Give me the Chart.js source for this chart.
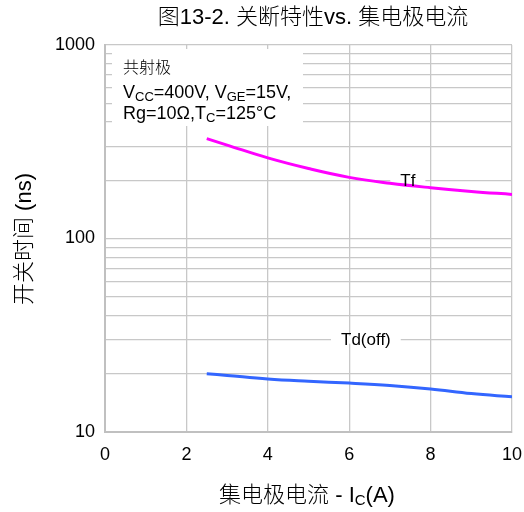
<!DOCTYPE html>
<html>
<head>
<meta charset="utf-8">
<script src="https://cdn.jsdelivr.net/npm/chart.js@4/dist/chart.umd.min.js"></script>
<style>
  html, body { margin: 0; padding: 0; background: #fff; }
  #wrap { width: 524px; height: 512px; position: relative; }
</style>
</head>
<body>
<div id="wrap"><canvas id="c" width="524" height="512"></canvas></div>
<script>
// Collector current (A)
const currentA = [2.5, 3, 4, 5, 6, 7, 8, 9, 10];
// Fall time Tf (ns)
const tfNs = [328, 304, 261, 230, 207, 193, 183, 175, 169];
// Turn-off delay Td(off) (ns)
const tdOffNs = [20, 19.6, 18.8, 18.3, 17.9, 17.4, 16.7, 15.8, 15.2];

// Axis ticks
const xTicks = [0, 2, 4, 6, 8, 10];
const yGridValues = [10, 20, 30, 40, 50, 60, 70, 80, 90,
                     100, 200, 300, 400, 500, 600, 700, 800, 900, 1000];
const yTickLabels = [10, 100, 1000];

// Curve labels: [text, x, y]
const curveLabels = [
  ['Tf', 7.44, 200],
  ['Td(off)', 6.41, 30]
];

const LATIN = "'Liberation Sans', Arial, 'Noto Sans CJK SC', sans-serif";
const MIXED = (size) => "300 " + size + "px 'Liberation Sans', Arial, 'Noto Sans CJK SC', sans-serif";
const GRID = '#c8c8c8';

// Draws a row of text runs (with optional subscript runs) starting at x.
function runsWidth(ctx, runs) {
  let w = 0;
  for (const r of runs) { ctx.font = r.font; w += ctx.measureText(r.t).width; }
  return w;
}
function drawRuns(ctx, runs, x, y, align) {
  let cx = x;
  if (align === 'center') cx = x - runsWidth(ctx, runs) / 2;
  ctx.textAlign = 'left';
  ctx.textBaseline = 'alphabetic';
  for (const r of runs) {
    ctx.font = r.font;
    ctx.fillText(r.t, cx, y + (r.dy || 0));
    cx += ctx.measureText(r.t).width;
  }
}

const decorations = {
  id: 'decorations',
  beforeDatasetsDraw(chart) {
    const ctx = chart.ctx;
    const xs = chart.scales.x, ys = chart.scales.y;
    ctx.save();
    // white panel for the test conditions
    ctx.fillStyle = '#fff';
    ctx.fillRect(112, 49, 191, 77);
    // white backgrounds behind the curve names
    ctx.font = '17px ' + LATIN;
    for (const [t, vx, vy] of curveLabels) {
      const px = xs.getPixelForValue(vx), py = ys.getPixelForValue(vy);
      const w = ctx.measureText(t).width + 20;
      ctx.fillRect(px - w / 2, py - 4, w, 8);
    }
    ctx.restore();
  },
  afterDatasetsDraw(chart) {
    const ctx = chart.ctx;
    const xs = chart.scales.x, ys = chart.scales.y;
    ctx.save();
    ctx.fillStyle = '#000';

    // curve names
    ctx.font = '17px ' + LATIN;
    ctx.textAlign = 'center';
    ctx.textBaseline = 'middle';
    for (const [t, vx, vy] of curveLabels) {
      ctx.fillText(t, xs.getPixelForValue(vx), ys.getPixelForValue(vy) + 1);
    }

    // test conditions
    const big = '18px ' + LATIN, sub = '13px ' + LATIN;
    ctx.font = "300 16px 'Noto Sans CJK SC', sans-serif";
    ctx.textAlign = 'left';
    ctx.textBaseline = 'alphabetic';
    ctx.fillText('共射极', 123, 73);
    drawRuns(ctx, [
      { t: 'V', font: big }, { t: 'CC', font: sub, dy: 3 },
      { t: '=400V, V', font: big }, { t: 'GE', font: sub, dy: 3 },
      { t: '=15V,', font: big }
    ], 123, 98, 'left');
    drawRuns(ctx, [
      { t: 'Rg=10Ω,T', font: big }, { t: 'C', font: sub, dy: 3 },
      { t: '=125°C', font: big }
    ], 123, 119, 'left');

    // chart title
    drawRuns(ctx, [
      { t: '图13-2. 关断特性vs. 集电极电流', font: MIXED(22) }
    ], 313, 24, 'center');

    // x axis title
    drawRuns(ctx, [
      { t: '集电极电流 - I', font: MIXED(22) },
      { t: 'C', font: '15px ' + LATIN, dy: 3 },
      { t: '(A)', font: '22px ' + LATIN }
    ], 307, 502, 'center');

    // y axis title
    ctx.translate(31, 239);
    ctx.rotate(-Math.PI / 2);
    drawRuns(ctx, [{ t: '开关时间 (ns)', font: MIXED(22) }], 0, 0, 'center');
    ctx.restore();
  }
};

new Chart(document.getElementById('c'), {
  type: 'line',
  data: {
    datasets: [
      {
        label: 'Tf',
        data: currentA.map((x, i) => ({ x, y: tfNs[i] })),
        borderColor: '#ff00ff',
        borderWidth: 3,
        pointRadius: 0,
        tension: 0.4,
        fill: false
      },
      {
        label: 'Td(off)',
        data: currentA.map((x, i) => ({ x, y: tdOffNs[i] })),
        borderColor: '#3366ff',
        borderWidth: 3,
        pointRadius: 0,
        tension: 0.4,
        fill: false
      }
    ]
  },
  options: {
    responsive: false,
    animation: false,
    events: [],
    layout: { padding: { left: 0, top: 45, right: 0, bottom: 0 } },
    plugins: { legend: { display: false }, title: { display: false }, tooltip: { enabled: false } },
    scales: {
      x: {
        type: 'linear',
        min: 0, max: 10,
        afterBuildTicks: s => { s.ticks = xTicks.map(v => ({ value: v })); },
        afterFit: s => { s.height = 80; s.paddingRight = 12; },
        grid: { color: GRID, lineWidth: 1.3, drawTicks: false },
        border: { color: '#c0c0c0', width: 2 },
        ticks: { color: '#000', font: { family: LATIN, size: 18 }, padding: 12, maxRotation: 0, autoSkip: false }
      },
      y: {
        type: 'logarithmic',
        min: 10, max: 1000,
        afterBuildTicks: s => { s.ticks = yGridValues.map(v => ({ value: v })); },
        afterFit: s => { s.width = 105; },
        grid: { color: GRID, lineWidth: 1.3, drawTicks: false },
        border: { color: '#c0c0c0', width: 2 },
        ticks: {
          color: '#000', font: { family: LATIN, size: 18 }, padding: 10, autoSkip: false,
          callback: v => (yTickLabels.includes(v) ? String(v) : '')
        }
      }
    }
  },
  plugins: [decorations]
});
</script>
</body>
</html>
